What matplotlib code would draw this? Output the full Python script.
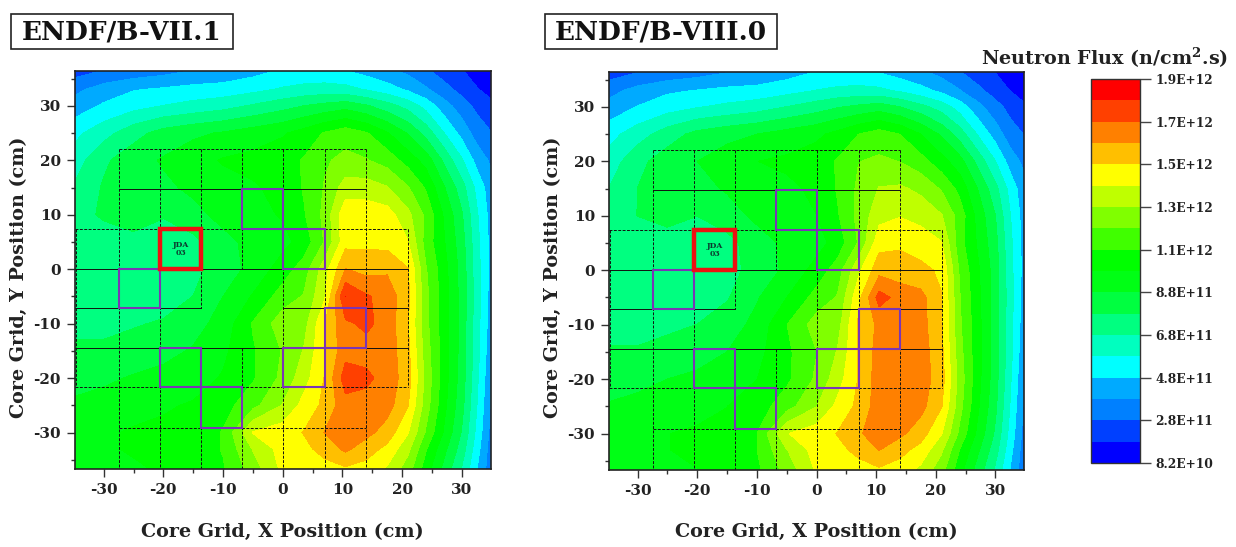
import numpy as np
import matplotlib
matplotlib.use('Agg')
import matplotlib.pyplot as plt
from matplotlib.colors import ListedColormap, BoundaryNorm
from matplotlib.patches import Rectangle

W, H = 1236, 547

# flux grid nodes (cm)
x_nodes = [-34.8, -30, -25, -20, -15, -10, -5, 0, 3.5, 7, 10.5, 14, 17.5, 21, 24, 27, 30, 32.5, 34.8]
y_nodes = [36.4, 33, 30, 25, 20, 15, 10, 5, 0, -5, -10, -15, -20, -25, -30, -33, -36.7]

# neutron flux, units of 1E+11 n/cm2.s
flux_b71 = [
    [2.4, 2.9, 3.2, 3.5, 3.9, 4.1, 4.5, 5.0, 5.1, 5.1, 4.9, 4.5, 4.1, 3.6, 3.0, 2.4, 1.9, 1.4, 0.9],
    [3.6, 4.3, 4.8, 5.0, 5.2, 5.3, 5.6, 6.0, 6.2, 6.3, 6.2, 5.8, 5.3, 4.7, 4.0, 3.2, 2.5, 1.9, 1.5],
    [4.3, 5.0, 5.5, 5.9, 6.2, 6.5, 7.0, 7.5, 7.9, 8.2, 8.5, 8.0, 7.3, 6.5, 5.5, 4.3, 3.3, 2.6, 2.1],
    [5.6, 6.5, 7.5, 8.3, 8.7, 9.0, 9.4, 9.8, 10.3, 11.0, 11.5, 11.0, 10.0, 8.8, 7.5, 5.9, 4.5, 3.4, 2.9],
    [6.4, 7.7, 8.5, 9.0, 9.5, 10.0, 10.2, 10.5, 11.0, 11.8, 12.2, 12.0, 11.5, 10.5, 9.5, 7.7, 6.0, 4.5, 3.7],
    [7.0, 8.0, 8.5, 8.7, 9.1, 9.5, 9.8, 10.2, 11.0, 12.0, 13.4, 13.4, 13.0, 12.0, 10.8, 9.0, 7.3, 5.6, 4.3],
    [7.6, 8.0, 8.2, 8.0, 8.6, 9.2, 9.6, 10.0, 10.8, 12.2, 14.7, 14.6, 14.4, 13.2, 11.7, 9.8, 8.0, 6.0, 4.5],
    [7.4, 7.5, 7.7, 7.2, 7.6, 8.6, 9.2, 9.6, 10.3, 12.0, 14.6, 14.7, 14.6, 14.0, 11.5, 10.0, 8.3, 6.2, 4.6],
    [7.0, 7.0, 7.2, 7.2, 7.6, 8.4, 9.2, 10.4, 11.4, 13.5, 16.0, 15.6, 15.8, 15.0, 12.0, 10.3, 8.5, 6.3, 4.6],
    [7.0, 7.0, 7.1, 7.4, 7.9, 8.9, 10.0, 11.4, 12.0, 13.8, 18.0, 17.1, 16.6, 15.2, 12.2, 10.4, 8.5, 6.4, 4.5],
    [7.6, 7.6, 7.8, 8.0, 8.5, 9.3, 11.0, 12.5, 12.5, 14.9, 16.8, 17.2, 16.6, 15.0, 12.2, 10.4, 8.5, 6.3, 4.4],
    [8.1, 8.1, 8.3, 8.6, 9.0, 9.7, 10.8, 12.0, 13.0, 14.9, 16.6, 16.6, 16.6, 15.2, 12.4, 10.4, 8.5, 6.3, 4.2],
    [8.5, 8.7, 9.0, 9.2, 9.5, 10.0, 10.8, 12.2, 13.5, 15.0, 17.5, 17.2, 16.6, 15.4, 12.6, 10.4, 8.4, 6.1, 4.0],
    [9.1, 9.3, 9.6, 9.8, 10.0, 10.5, 11.6, 13.0, 14.3, 15.2, 16.6, 16.6, 16.4, 15.0, 12.4, 10.2, 8.2, 5.9, 3.8],
    [9.6, 9.8, 10.0, 10.1, 10.2, 11.0, 14.0, 14.5, 15.0, 16.0, 16.8, 16.3, 15.5, 14.0, 11.8, 9.8, 7.8, 5.6, 3.6],
    [9.6, 9.8, 10.0, 10.1, 10.2, 11.0, 13.0, 14.4, 14.7, 15.3, 16.2, 15.4, 14.7, 13.2, 11.0, 9.2, 7.4, 5.3, 3.4],
    [9.4, 9.6, 9.8, 10.0, 10.1, 10.8, 12.4, 14.2, 14.5, 14.6, 14.8, 14.6, 13.8, 12.4, 10.4, 8.6, 6.8, 4.9, 3.3],
]
flux_b80 = [
    [2.3, 2.8, 3.1, 3.4, 3.8, 4.0, 4.4, 4.9, 5.0, 5.0, 4.8, 4.4, 4.0, 3.5, 2.9, 2.3, 1.8, 1.3, 0.9],
    [3.5, 4.2, 4.7, 4.9, 5.1, 5.2, 5.5, 5.9, 6.1, 6.2, 6.1, 5.7, 5.2, 4.6, 3.9, 3.1, 2.4, 1.8, 1.4],
    [4.2, 4.9, 5.4, 5.8, 6.1, 6.4, 6.9, 7.4, 7.8, 8.1, 8.4, 7.9, 7.2, 6.4, 5.4, 4.2, 3.2, 2.5, 2.0],
    [5.5, 6.4, 7.4, 8.2, 8.6, 8.9, 9.3, 9.7, 10.2, 10.9, 11.4, 10.9, 9.9, 8.7, 7.4, 5.8, 4.4, 3.3, 2.8],
    [6.3, 7.6, 8.4, 8.9, 9.4, 9.9, 10.1, 10.4, 11.0, 11.9, 12.1, 11.9, 11.3, 10.3, 9.3, 7.6, 5.9, 4.4, 3.6],
    [6.9, 7.9, 8.4, 8.6, 9.0, 9.4, 9.7, 10.1, 11.0, 12.1, 13.0, 13.1, 12.7, 11.8, 10.6, 8.9, 7.2, 5.5, 4.2],
    [7.5, 7.9, 8.1, 7.9, 8.5, 9.1, 9.5, 9.9, 10.8, 12.2, 13.6, 13.9, 13.6, 13.0, 11.5, 9.6, 7.9, 5.9, 4.4],
    [7.3, 7.4, 7.6, 7.1, 7.5, 8.5, 9.1, 9.5, 10.3, 12.0, 14.6, 14.8, 14.5, 14.0, 11.3, 9.8, 8.2, 6.1, 4.5],
    [6.9, 6.9, 7.1, 7.1, 7.5, 8.3, 9.1, 10.3, 11.4, 13.7, 15.6, 15.4, 15.2, 14.8, 11.8, 10.1, 8.4, 6.2, 4.5],
    [6.9, 6.9, 7.0, 7.3, 7.8, 8.8, 9.9, 11.3, 12.0, 14.6, 17.4, 16.6, 16.3, 15.0, 12.0, 10.2, 8.4, 6.3, 4.4],
    [7.5, 7.5, 7.7, 7.9, 8.4, 9.2, 10.9, 12.4, 12.5, 15.1, 16.2, 16.6, 16.4, 15.0, 12.1, 10.3, 8.4, 6.2, 4.3],
    [8.0, 8.0, 8.2, 8.5, 8.9, 9.6, 10.7, 11.9, 13.0, 15.0, 16.4, 16.5, 16.5, 15.2, 12.3, 10.3, 8.4, 6.2, 4.1],
    [8.4, 8.6, 8.9, 9.1, 9.4, 9.9, 10.7, 12.1, 13.5, 15.0, 16.5, 16.6, 16.5, 15.4, 12.5, 10.3, 8.3, 6.0, 3.9],
    [9.0, 9.2, 9.5, 9.7, 9.9, 10.4, 11.5, 12.9, 14.2, 15.2, 16.5, 16.5, 16.3, 15.0, 12.3, 10.1, 8.1, 5.8, 3.7],
    [9.5, 9.7, 9.9, 10.0, 10.1, 10.9, 13.9, 14.5, 15.0, 15.8, 16.6, 16.2, 15.4, 14.0, 11.7, 9.7, 7.7, 5.5, 3.5],
    [9.5, 9.7, 9.9, 10.0, 10.1, 10.9, 12.9, 14.4, 14.7, 15.2, 16.0, 15.3, 14.6, 13.1, 10.9, 9.1, 7.3, 5.2, 3.3],
    [9.3, 9.5, 9.7, 9.9, 10.0, 10.7, 12.3, 14.1, 14.5, 14.6, 14.8, 14.5, 13.7, 12.3, 10.3, 8.5, 6.7, 4.8, 3.2],
]

# contour bounds, units of 1E+11
flux_levels = [0.82, 1.83, 2.84, 3.85, 4.86, 5.87, 6.88, 7.89, 8.9, 9.91, 10.92,
               11.93, 12.94, 13.95, 14.96, 15.97, 16.98, 17.99, 19.0]
band_colors = ['#0000ff', '#0040ff', '#0080ff', '#00aaff', '#00ffff', '#00ffbf',
               '#00ff80', '#00ff40', '#00ff15', '#00ff00', '#40ff00', '#80ff00',
               '#bfff00', '#ffff00', '#ffbf00', '#ff8000', '#ff4000', '#ff0000']
cbar_ticks = [0.82, 2.84, 4.86, 6.88, 8.9, 10.92, 12.94, 14.96, 16.98, 19.0]
cbar_labels = ['8.2E+10', '2.8E+11', '4.8E+11', '6.8E+11', '8.8E+11',
               '1.1E+12', '1.3E+12', '1.5E+12', '1.7E+12', '1.9E+12']

# core lattice lines
grid_x = [-27.5, -20.5, -13.7, -6.8, 0, 7.1, 14, 21]
grid_y = [22, 14.7, 7.4, 0, -7.2, -14.5, -21.7, -29.1]
# (y, x start, x end, linestyle)
h_lines = [(22, -27.5, 14, '--'), (14.7, -27.5, 14, '-'), (7.4, -34.8, 21, '--'),
           (0, -34.8, 21, '-'), (-7.2, -34.8, -13.7, '-'), (-7.2, 0, 21, '-'),
           (-14.5, -34.8, 21, '-'), (-21.7, -34.8, 21, '--'), (-29.1, -27.5, 14, '--')]
# (x, y start, y end)
v_lines = [(-27.5, 22, -36.7), (-20.5, 22, -36.7), (-13.7, 22, -7.2), (-13.7, -14.5, -36.7),
           (-6.8, 22, 0), (-6.8, -14.5, -36.7), (0, 22, -36.7), (7.1, 22, -36.7),
           (14, 22, -36.7), (21, 7.4, -21.7), (-34.6, 7.4, -21.7)]
# lattice cells (column, row) with purple outline, row counted from grid_y top
purple_cells = [(3, 1), (4, 2), (0, 3), (1, 5), (2, 6), (4, 5), (5, 4)]
red_cell = (1, 2)

plt.rcParams['font.family'] = ['DejaVu Serif']
plt.rcParams['font.weight'] = 'bold'
plt.rcParams['mathtext.fontset'] = 'dejavuserif'
plt.rcParams['axes.unicode_minus'] = False

fig = plt.figure(figsize=(W / 100, H / 100), dpi=100)
cmap = ListedColormap(band_colors)
norm = BoundaryNorm(flux_levels, cmap.N)
TXT = '#222222'


def add_ax(x0, y0, x1, y1):
    return fig.add_axes([x0 / W, 1 - y1 / H, (x1 - x0) / W, (y1 - y0) / H])


def panel(box, flux, title, title_box):
    ax = add_ax(*box)
    cf = ax.contourf(x_nodes, y_nodes, np.array(flux), levels=flux_levels, cmap=cmap, norm=norm)
    ax.set_xlim(-34.8, 34.8)
    ax.set_ylim(-36.7, 36.4)

    for y, xa, xb, ls in h_lines:
        ax.plot([xa, xb], [y, y], color='#111111', lw=0.7, ls=ls, dashes=(3, 1.5) if ls == '--' else (None, None))
    for x, ya, yb in v_lines:
        ax.plot([x, x], [ya, yb], color='#111111', lw=0.7, dashes=(3, 1.5))

    for col, row in purple_cells:
        ax.add_patch(Rectangle((grid_x[col], grid_y[row + 1]), grid_x[col + 1] - grid_x[col],
                               grid_y[row] - grid_y[row + 1], fill=False, ec='#7a35b5', lw=1.5, zorder=4))
    col, row = red_cell
    ax.add_patch(Rectangle((grid_x[col], grid_y[row + 1]), grid_x[col + 1] - grid_x[col],
                           grid_y[row] - grid_y[row + 1], fill=False, ec='#ee1111', lw=3.2, zorder=5))
    ax.text((grid_x[col] + grid_x[col + 1]) / 2, (grid_y[row] + grid_y[row + 1]) / 2, 'JDA\n03',
            ha='center', va='center', fontsize=5.5, color='#0b3b2e', linespacing=1.0, zorder=6)

    ax.set_xticks([-30, -20, -10, 0, 10, 20, 30])
    ax.set_yticks([-30, -20, -10, 0, 10, 20, 30])
    ax.set_xticks([-25, -15, -5, 5, 15, 25], minor=True)
    ax.set_yticks([-35, -25, -15, -5, 5, 15, 25, 35], minor=True)
    ax.tick_params(which='major', length=6, width=1, color='#333333', labelsize=11, labelcolor=TXT, pad=4)
    ax.tick_params(which='minor', length=3, width=1, color='#333333')
    for s in ax.spines.values():
        s.set_linewidth(1.2)
        s.set_color('#222222')

    cx = (box[0] + box[2]) / 2
    fig.text(cx / W, 1 - 532 / H, 'Core Grid, X Position (cm)', ha='center', va='center', fontsize=13.8, color=TXT)
    fig.text((box[0] - 56) / W, 1 - 277 / H, 'Core Grid, Y Position (cm)', rotation=90,
             ha='center', va='center', fontsize=13.8, color=TXT)

    x0, y0, x1, y1 = title_box
    fig.add_artist(Rectangle((x0 / W, 1 - y1 / H), (x1 - x0) / W, (y1 - y0) / H, transform=fig.transFigure,
                             fill=False, ec='#222222', lw=1.2))
    fig.text((x0 + x1) / 2 / W, 1 - (y0 + y1) / 2 / H, title, ha='center', va='center', fontsize=19, color='#111111')
    return cf


cf = panel((75, 71, 490.5, 469), flux_b71, 'ENDF/B-VII.1', (11, 14, 233, 49))
panel((609, 72, 1024, 470), flux_b80, 'ENDF/B-VIII.0', (545, 14, 777, 49))

cax = add_ax(1091, 79, 1140, 463)
cb = fig.colorbar(cf, cax=cax, ticks=cbar_ticks, spacing='proportional')
cb.set_ticklabels(cbar_labels)
cb.ax.minorticks_off()
cb.ax.tick_params(length=8, width=1, color='#444444', labelsize=8.8, labelcolor=TXT, pad=3)
cb.outline.set_linewidth(1)
cb.outline.set_edgecolor('#333333')

fig.text(1105 / W, 1 - 58 / H, 'Neutron Flux (n/cm$^{\\mathbf{2}}$.s)', ha='center', va='center', fontsize=13.8, color=TXT)

fig.savefig('out.png', dpi=100)
